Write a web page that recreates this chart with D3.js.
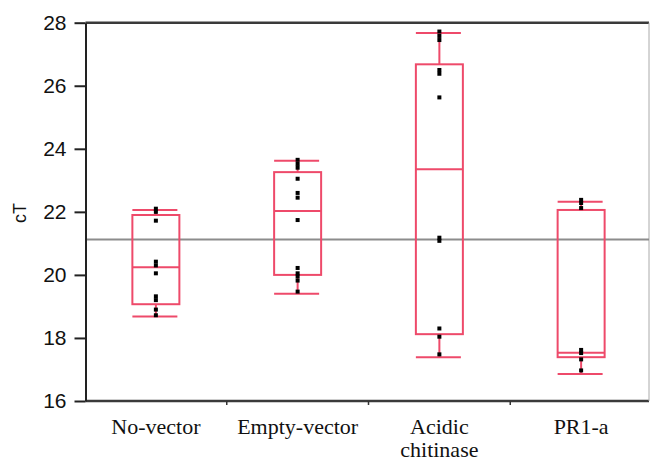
<!DOCTYPE html>
<html>
<head>
<meta charset="utf-8">
<script src="https://cdn.jsdelivr.net/npm/d3@7"></script>
<style>
	body { margin: 0; background: #fff; }
	svg { display: block; }
</style>
</head>
<body>
<div id="main"></div>
<script>
// categories and values
const categories = ["No-vector", "Empty-vector", "Acidic chitinase", "PR1-a"];
const whiskerLow = [18.68, 19.4, 17.39, 16.86];
const q1 = [19.07, 20.0, 18.12, 17.39];
const median = [20.24, 22.03, 23.35, 17.53];
const q3 = [21.9, 23.26, 26.68, 22.06];
const whiskerHigh = [22.06, 23.62, 27.67, 22.32];
const points = [
	[22.1, 22.0, 21.72, 20.42, 20.3, 20.05, 19.32, 19.2, 18.9, 18.72],
	[23.65, 23.52, 23.4, 23.05, 22.6, 22.45, 21.74, 20.22, 20.05, 19.95, 19.82, 19.47],
	[27.72, 27.58, 27.45, 26.5, 26.38, 25.63, 21.18, 21.08, 18.3, 18.04, 17.48],
	[22.38, 22.28, 22.12, 17.62, 17.52, 17.32, 16.97],
];
const refLine = 21.12;
const yTicks = [16, 18, 20, 22, 24, 26, 28];

const sizes = {
	width: 651,
	height: 462,
	left: 85.5,
	right: 649,
	top: 22.7,
	bottom: 401,
};
const boxColor = "#ee4a6a";
const boxW = 47;

const svg = d3
	.select("#main")
	.append("svg")
	.attr("width", sizes.width)
	.attr("height", sizes.height);

const y = d3.scaleLinear().domain([16, 28]).range([sizes.bottom, sizes.top]);
const x = d3.scaleBand().domain(categories).range([85, 652]);
const cx = (c) => x(c) + x.bandwidth() / 2;

// frame top / bottom / right
svg.append("line")
	.attr("x1", sizes.left).attr("x2", sizes.right)
	.attr("y1", sizes.top).attr("y2", sizes.top)
	.style("stroke", "#3a3a3a").style("stroke-width", 2.5);
svg.append("line")
	.attr("x1", sizes.left).attr("x2", sizes.right)
	.attr("y1", sizes.bottom).attr("y2", sizes.bottom)
	.style("stroke", "#3a3a3a").style("stroke-width", 2.5);
svg.append("line")
	.attr("x1", sizes.right).attr("x2", sizes.right)
	.attr("y1", sizes.top).attr("y2", sizes.bottom)
	.style("stroke", "#aaa").style("stroke-width", 1);

// reference line
svg.append("line")
	.attr("x1", sizes.left).attr("x2", sizes.right)
	.attr("y1", y(refLine)).attr("y2", y(refLine))
	.style("stroke", "#8c8c8c").style("stroke-width", 2);

// y axis
const yAxis = svg
	.append("g")
	.attr("transform", `translate(${sizes.left},0)`)
	.call(d3.axisLeft(y).tickValues(yTicks).tickSize(11).tickSizeOuter(0).tickPadding(8));
yAxis.select(".domain").style("stroke", "#222").style("stroke-width", 2);
yAxis.selectAll(".tick line").style("stroke", "#222").style("stroke-width", 2);
yAxis.selectAll(".tick text")
	.style("font-family", "'Liberation Sans', Arial, sans-serif")
	.style("font-size", "21px")
	.style("fill", "#111");

svg.append("text")
	.attr("transform", `translate(26,213) rotate(-90)`)
	.attr("text-anchor", "middle")
	.style("font-family", "'Liberation Sans', Arial, sans-serif")
	.style("font-size", "18px")
	.style("fill", "#111")
	.text("cT");

// x ticks at band boundaries
svg.selectAll("line.xtick")
	.data(categories.slice(1))
	.enter()
	.append("line")
	.classed("xtick", true)
	.attr("x1", (d) => x(d)).attr("x2", (d) => x(d))
	.attr("y1", sizes.bottom).attr("y2", sizes.bottom + 4)
	.style("stroke", "#333").style("stroke-width", 1.5);

// x labels (Acidic chitinase is wrapped on two lines)
svg.selectAll("g.xlabel")
	.data(categories)
	.enter()
	.append("g")
	.classed("xlabel", true)
	.each(function (d) {
		const words = d === "Acidic chitinase" ? ["Acidic", "chitinase"] : [d];
		d3.select(this)
			.selectAll("text")
			.data(words)
			.enter()
			.append("text")
			.attr("text-anchor", "middle")
			.attr("x", cx(d))
			.attr("y", (w, i) => 434 + i * 23)
			.style("font-family", "'Liberation Serif', 'Times New Roman', serif")
			.style("font-size", "22px")
			.style("fill", "#111")
			.text((w) => w);
	});

// boxes
const boxes = svg
	.selectAll("g.box")
	.data(categories.map((c, i) => ({ c, i })))
	.enter()
	.append("g")
	.classed("box", true)
	.style("stroke", boxColor)
	.style("stroke-width", 2)
	.style("fill", "none");

boxes.append("line")
	.attr("x1", (d) => cx(d.c)).attr("x2", (d) => cx(d.c))
	.attr("y1", (d) => y(whiskerHigh[d.i])).attr("y2", (d) => y(q3[d.i]));
boxes.append("line")
	.attr("x1", (d) => cx(d.c)).attr("x2", (d) => cx(d.c))
	.attr("y1", (d) => y(q1[d.i])).attr("y2", (d) => y(whiskerLow[d.i]));
boxes.append("line")
	.attr("x1", (d) => cx(d.c) - boxW / 2).attr("x2", (d) => cx(d.c) + boxW / 2 - 2)
	.attr("y1", (d) => y(whiskerHigh[d.i])).attr("y2", (d) => y(whiskerHigh[d.i]));
boxes.append("line")
	.attr("x1", (d) => cx(d.c) - boxW / 2).attr("x2", (d) => cx(d.c) + boxW / 2 - 2)
	.attr("y1", (d) => y(whiskerLow[d.i])).attr("y2", (d) => y(whiskerLow[d.i]));
boxes.append("rect")
	.attr("x", (d) => cx(d.c) - boxW / 2)
	.attr("width", boxW)
	.attr("y", (d) => y(q3[d.i]))
	.attr("height", (d) => y(q1[d.i]) - y(q3[d.i]));
boxes.append("line")
	.attr("x1", (d) => cx(d.c) - boxW / 2).attr("x2", (d) => cx(d.c) + boxW / 2)
	.attr("y1", (d) => y(median[d.i])).attr("y2", (d) => y(median[d.i]));

// points
const pts = categories.flatMap((c, i) => points[i].map((v) => ({ c, v })));
svg.selectAll("rect.pt")
	.data(pts)
	.enter()
	.append("rect")
	.classed("pt", true)
	.attr("x", (d) => cx(d.c) - 2)
	.attr("y", (d) => y(d.v) - 2)
	.attr("width", 4)
	.attr("height", 4)
	.style("fill", "#000");
</script>
</body>
</html>
